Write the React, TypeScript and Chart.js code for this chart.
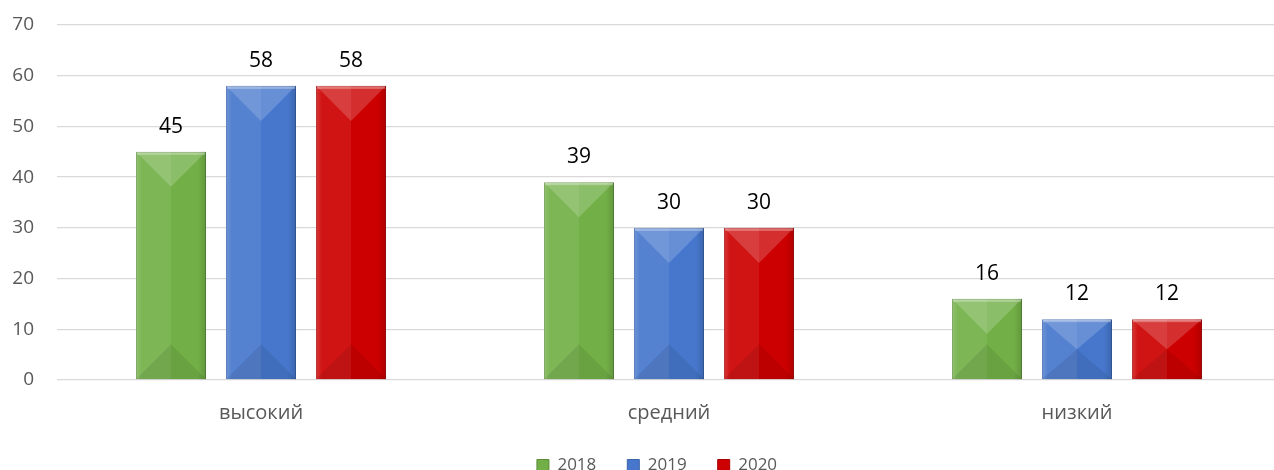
import React, { useEffect, useRef } from "react";
import { Chart, registerables } from "chart.js";

Chart.register(...registerables);

const categories = ["высокий", "средний", "низкий"];
const seriesLabels = ["2018", "2019", "2020"];
const values2018 = [45, 39, 16];
const values2019 = [58, 30, 12];
const values2020 = [58, 30, 12];
const yTicks = [0, 10, 20, 30, 40, 50, 60, 70];

const baseColors = ["#72b047", "#4677cc", "#cc0000"];
const borderColors = ["#5b8c38", "#3a62a8", "#a80000"];

const FONT = "'Open Sans', 'Noto Sans', sans-serif";

const bevelPlugin = {
  id: "bevel",
  afterDatasetsDraw(chart: any) {
    const ctx = chart.ctx;
    chart.data.datasets.forEach((ds: any, di: number) => {
      const meta = chart.getDatasetMeta(di);
      meta.data.forEach((bar: any) => {
        const { x, y, base, width } = bar.getProps(["x", "y", "base", "width"], true);
        const left = x - width / 2;
        const right = x + width / 2;
        const top = Math.min(y, base);
        const bottom = Math.max(y, base);
        const h = bottom - top;
        const d = Math.min(width / 2, h / 2);
        ctx.save();
        ctx.fillStyle = "rgba(255,255,255,0.08)";
        ctx.fillRect(left, top, width / 2, h);
        const g = ctx.createLinearGradient(right - 8, 0, right, 0);
        g.addColorStop(0, "rgba(0,0,0,0)");
        g.addColorStop(1, "rgba(0,0,0,0.15)");
        ctx.fillStyle = g;
        ctx.fillRect(right - 8, top, 8, h);
        const g2 = ctx.createLinearGradient(left, 0, left + 6, 0);
        g2.addColorStop(0, "rgba(255,255,255,0.15)");
        g2.addColorStop(1, "rgba(255,255,255,0)");
        ctx.fillStyle = g2;
        ctx.fillRect(left, top, 6, h);
        ctx.beginPath();
        ctx.moveTo(left, top);
        ctx.lineTo(right, top);
        ctx.lineTo(x, top + d);
        ctx.closePath();
        ctx.fillStyle = "rgba(255,255,255,0.18)";
        ctx.fill();
        ctx.beginPath();
        ctx.moveTo(left, bottom);
        ctx.lineTo(right, bottom);
        ctx.lineTo(x, bottom - d);
        ctx.closePath();
        ctx.fillStyle = "rgba(0,0,0,0.08)";
        ctx.fill();
        ctx.fillStyle = "rgba(255,255,255,0.3)";
        ctx.fillRect(left + 1, top + 1, width - 2, 2);
        ctx.restore();
      });
    });
  },
};

const labelPlugin = {
  id: "valueLabels",
  afterDatasetsDraw(chart: any) {
    const ctx = chart.ctx;
    ctx.save();
    ctx.font = `21px ${FONT}`;
    ctx.fillStyle = "#000000";
    ctx.textAlign = "center";
    ctx.textBaseline = "alphabetic";
    chart.data.datasets.forEach((ds: any, di: number) => {
      const meta = chart.getDatasetMeta(di);
      meta.data.forEach((bar: any, i: number) => {
        ctx.fillText(String(ds.data[i]), bar.x, bar.y - 19);
      });
    });
    ctx.restore();
  },
};

const legendShiftPlugin = {
  id: "legendShift",
  afterLayout(chart: any) {
    if (chart.legend) {
      chart.legend.left += 33;
    }
  },
};

export default function App() {
  const ref = useRef<HTMLCanvasElement>(null);
  useEffect(() => {
    document.body.style.margin = "0";
    document.body.style.overflow = "hidden";
    const series = [values2018, values2019, values2020];
    const chart = new Chart(ref.current as HTMLCanvasElement, {
      type: "bar",
      data: {
        labels: categories,
        datasets: series.map((v, i) => ({
          label: seriesLabels[i],
          data: v,
          backgroundColor: baseColors[i],
          borderColor: borderColors[i],
          borderWidth: 1,
          categoryPercentage: 0.662,
          barPercentage: 0.778,
        })),
      },
      options: {
        animation: false,
        responsive: false,
        maintainAspectRatio: false,
        layout: { padding: { top: 25, right: 9, left: 0, bottom: 0 } },
        plugins: {
          tooltip: { enabled: false },
          legend: {
            position: "bottom",
            labels: {
              boxWidth: 12,
              boxHeight: 12,
              padding: 31,
              color: "#595959",
              font: { family: FONT, size: 17 },
            },
          },
        },
        scales: {
          x: {
            grid: { display: false },
            border: { display: false },
            ticks: { color: "#595959", font: { family: FONT, size: 20 }, padding: 13 },
            afterFit: (s: any) => {
              s.height = 46;
              s.paddingLeft = 0;
              s.paddingRight = 0;
            },
          },
          y: {
            min: 0,
            max: 70,
            afterBuildTicks: (s: any) => {
              s.ticks = yTicks.map((v) => ({ value: v }));
            },
            grid: { color: "#d9d9d9", lineWidth: 1.3, drawTicks: false },
            border: { display: false },
            ticks: { color: "#595959", font: { family: FONT, size: 19 }, padding: 23 },
            afterFit: (s: any) => {
              s.width = 57;
              s.paddingTop = 0;
              s.paddingBottom = 0;
            },
          },
        },
      },
      plugins: [bevelPlugin, labelPlugin, legendShiftPlugin],
    });
    return () => chart.destroy();
  }, []);
  return (
    <div style={{ width: 1274, height: 470, overflow: "hidden", position: "relative" }}>
      <canvas ref={ref} width={1290} height={484} style={{ display: "block" }} />
    </div>
  );
}
